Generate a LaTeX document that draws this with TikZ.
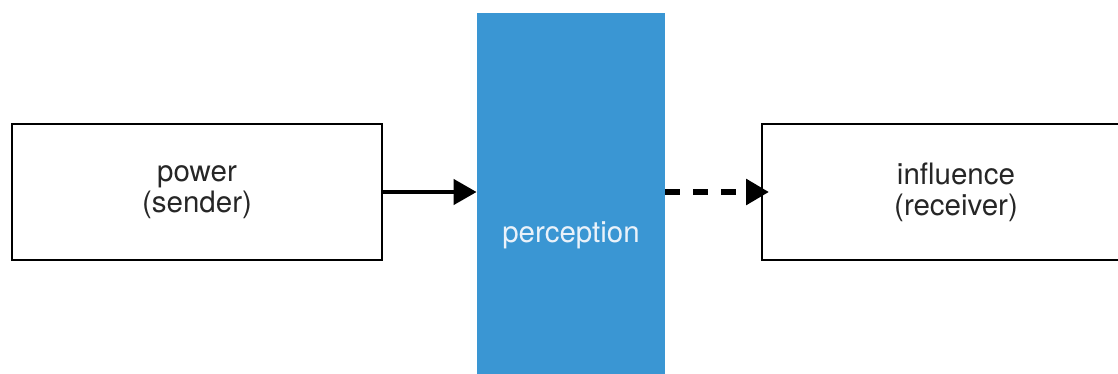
\documentclass[tikz,border=0pt]{standalone}
\usepackage{fontspec}
\setmainfont{TeX Gyre Heros}
\usetikzlibrary{arrows.meta}
\definecolor{percblue}{HTML}{3A96D3}
\definecolor{perctext}{HTML}{EAF2FA}
\begin{document}
\begin{tikzpicture}[x=0.5pt, y=-0.5pt,
  box/.style={draw, line width=1pt, align=center, inner sep=0pt,
    font=\fontsize{14.75}{15.5}\selectfont, text=black!85},
  link/.style={line width=2.2pt, -{Triangle[length=11.5pt, width=12.5pt]}}]
\useasboundingbox (0,0) rectangle (1118,374);
\clip (0,0) rectangle (1118,374);
\node[fill=percblue, minimum width=94pt, minimum height=190.5pt, inner sep=0pt] (perc) at (571,203.5){};
\node[font=\fontsize{14.75}{15.5}\selectfont, text=perctext, inner sep=0pt] (perclabel) at (571,235){perception};
\node[box, minimum width=185pt, minimum height=68pt] (sender) at (197,192){power\\(sender)};
\node[box, minimum width=194pt, minimum height=68pt] (receiver) at (956,192){influence\\(receiver)};
\draw[link](sender.east) -- (sender.east -| perc.west);
\draw[link, line width=3pt, dash pattern=on 7.5pt off 6.5pt](perc.east |- receiver.west) -- ([xshift=4pt]receiver.west);
\end{tikzpicture}
\end{document}
